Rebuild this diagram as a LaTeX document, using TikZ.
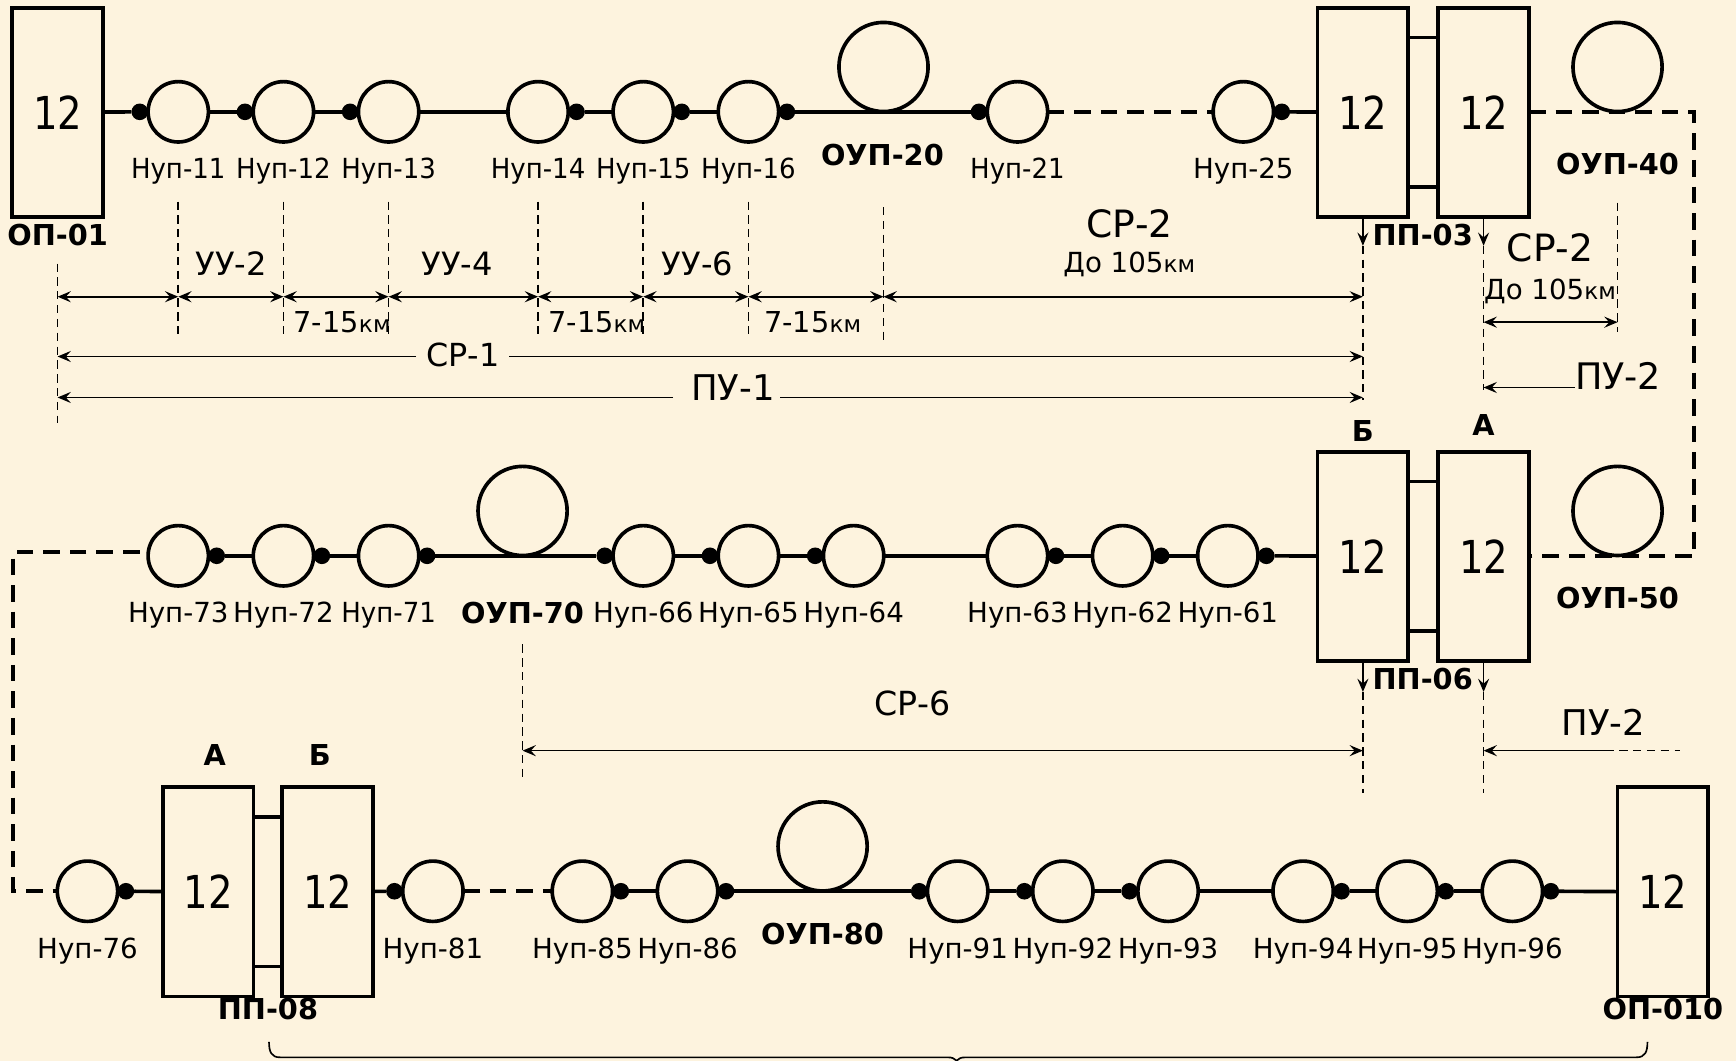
\documentclass[tikz,border=0pt]{standalone}
\usepackage{fontspec}
\usetikzlibrary{positioning, arrows.meta}
\setmainfont{DejaVu Sans}
\newfontfamily\narrowfont[FakeStretch=0.94]{DejaVu Sans}
\newfontfamily\boxfont[FakeStretch=0.85]{DejaVu Sans}
\definecolor{paper}{RGB}{253, 243, 222}

\begin{document}
\begin{tikzpicture}[x=1pt, y=-1pt, >={Stealth[length=12pt, width=10pt, inset=4.5pt]},
    station/.style={rectangle, draw, line width=3.4pt, minimum width=82pt, minimum height=189pt, inner sep=0pt, outer sep=0pt, font=\fontsize{41}{46}\selectfont\boxfont},
    nup/.style={circle, draw, line width=3.3pt, minimum size=54.5pt, inner sep=0pt, outer sep=0pt},
    oup/.style={circle, draw, line width=3.3pt, minimum size=80.5pt, inner sep=0pt, outer sep=0pt},
    joint/.style={circle, fill, minimum size=15pt, inner sep=0pt, outer sep=0pt},
    nuplabel/.style={font=\fontsize{25}{28}\selectfont, inner sep=0pt, text height=18pt, text depth=5pt},
    nuplabeln/.style={nuplabel, font=\fontsize{25}{28}\selectfont\narrowfont},
    namelabel/.style={font=\fontsize{26}{30}\selectfont\bfseries, inner sep=0pt},
    sizelabel/.style={font=\fontsize{#1}{#1}\selectfont, inner sep=0pt},
    fibre/.style={line width=3.3pt},
    fibredash/.style={line width=3.5pt, dash pattern=on 15pt off 9pt},
    guide/.style={line width=1.5pt, dash pattern=on 7.5pt off 5pt},
    dimline/.style={line width=1.5pt}]

    % Background
    \node[rectangle, fill=paper, minimum width=1568pt, minimum height=958pt, inner sep=0pt, outer sep=0pt] (sheet) at (784,479) {};
    \useasboundingbox (sheet.north west) rectangle (sheet.south east);

    % First line
    \node[station] (op01) at (52,101.5) {12};
    \node[nup] (n11) at (161,101) {};
    \node[nup] (n12) at (256,101) {};
    \node[nup] (n13) at (351,101) {};
    \node[nup] (n14) at (486,101) {};
    \node[nup] (n15) at (581,101) {};
    \node[nup] (n16) at (676,101) {};
    \node[nup] (n21) at (919,101) {};
    \node[nup] (n25) at (1123,101) {};
    \node[oup] (o20) at (798,60.5) {};
    \node[oup] (o40) at (1461,60.5) {};
    \node[station] (pp03b) at (1231,101.5) {12};
    \node[station] (pp03a) at (1340,101.5) {12};

    \node[joint, left=0pt of n11] (d11) {};
    \node[joint, left=0pt of n12] (d12) {};
    \node[joint, left=0pt of n13] (d13) {};
    \node[joint, right=0pt of n14] (d14) {};
    \node[joint, right=0pt of n15] (d15) {};
    \node[joint, right=0pt of n16] (d16) {};
    \node[joint, left=0pt of n21] (d21) {};
    \node[joint, right=0pt of n25] (d25) {};

    \node[nuplabeln, below=15pt of n11] (l11) {Нуп-11};
    \node[nuplabeln, below=15pt of n12] (l12) {Нуп-12};
    \node[nuplabeln, below=15pt of n13] (l13) {Нуп-13};
    \node[nuplabeln, below=15pt of n14] (l14) {Нуп-14};
    \node[nuplabeln, below=15pt of n15] (l15) {Нуп-15};
    \node[nuplabeln, below=15pt of n16] (l16) {Нуп-16};
    \node[nuplabeln, below=15pt of n21] (l21) {Нуп-21};
    \node[nuplabel, below=15pt of n25] (l25) {Нуп-25};
    \node[namelabel] (lo20) at (797,140) {ОУП-20};
    \node[namelabel] (lo40) at (1461,148) {ОУП-40};
    \node[namelabel] (lop01) at (52,212) {ОП-01};
    \node[namelabel] (lpp03) at (1285,212) {ПП-03};

    \draw[fibre] (op01) -- (d11);
    \draw[fibre] (n11) -- (d12);
    \draw[fibre] (n12) -- (d13);
    \draw[fibre] (n13) -- (n14);
    \draw[fibre] (d14) -- (n15);
    \draw[fibre] (d15) -- (n16);
    \draw[fibre] (d16) -- (d21);
    \draw[fibredash] (n21) -- (n25);
    \draw[fibre] (d25) -- (pp03b);
    \draw[fibre] ([yshift=-27pt]pp03b.north east) -- ([yshift=-27pt]pp03a.north west);
    \draw[fibre] ([yshift=27pt]pp03b.south east) -- ([yshift=27pt]pp03a.south west);

    % Dimensions of the first line
    \coordinate (g0t) at (52,238);
    \coordinate (g0b) at (52,382);
    \coordinate (g1t) at (161,182);
    \coordinate (g1b) at (161,305);
    \coordinate (g2t) at (256,182);
    \coordinate (g2b) at (256,305);
    \coordinate (g3t) at (351,182);
    \coordinate (g3b) at (351,305);
    \coordinate (g4t) at (486,182);
    \coordinate (g4b) at (486,305);
    \coordinate (g5t) at (581,182);
    \coordinate (g5b) at (581,305);
    \coordinate (g6t) at (676,182);
    \coordinate (g6b) at (676,305);
    \coordinate (g7t) at (798,187);
    \coordinate (g7b) at (798,308);
    \coordinate (g8t) at (1231,222);
    \coordinate (g8b) at (1231,361);
    \coordinate (g9t) at (1340,222);
    \coordinate (g9b) at (1340,352);
    \coordinate (gat) at (1461,183);
    \coordinate (gab) at (1461,300);
    \coordinate (pu1l) at (608,359);

    \draw[guide] (g0t) -- (g0b);
    \draw[guide] (g1t) -- (g1b);
    \draw[guide] (g2t) -- (g2b);
    \draw[guide] (g3t) -- (g3b);
    \draw[guide] (g4t) -- (g4b);
    \draw[guide] (g5t) -- (g5b);
    \draw[guide] (g6t) -- (g6b);
    \draw[guide] (g7t) -- (g7b);
    \draw[guide] (g8t) -- (g8b);
    \draw[guide] (g9t) -- (g9b);
    \draw[guide] (gat) -- (gab);
    \draw[dimline, ->] (pp03b) -- (g8t);
    \draw[dimline, ->] (pp03a) -- (g9t);

    \draw[dimline, <->] (g0t |- 0,268) -- (g1t |- 0,268);
    \draw[dimline, <->] (g1t |- 0,268) -- (g2t |- 0,268);
    \draw[dimline, <->] (g2t |- 0,268) -- (g3t |- 0,268);
    \draw[dimline, <->] (g3t |- 0,268) -- (g4t |- 0,268);
    \draw[dimline, <->] (g4t |- 0,268) -- (g5t |- 0,268);
    \draw[dimline, <->] (g5t |- 0,268) -- (g6t |- 0,268);
    \draw[dimline, <->] (g6t |- 0,268) -- (g7t |- 0,268);
    \draw[dimline, <->] (g7t |- 0,268) -- (g8t |- 0,268);
    \draw[dimline, <->] (g9t |- 0,291) -- (gat |- 0,291);

    \node[sizelabel=29] (uu2) at (209,238) {УУ-2};
    \node[sizelabel=29] (uu4) at (413,238) {УУ-4};
    \node[sizelabel=29] (uu6) at (630,238) {УУ-6};
    \node[sizelabel=26] (km1) at (309,291) {7-15{\fontsize{21}{21}\selectfont км}};
    \node[sizelabel=26] (km2) at (539,291) {7-15{\fontsize{21}{21}\selectfont км}};
    \node[sizelabel=26] (km3) at (734,291) {7-15{\fontsize{21}{21}\selectfont км}};
    \node[sizelabel=34] (sr2) at (1020,202) {СР-2};
    \node[sizelabel=25] (km105) at (1020,239) {До 105{\fontsize{21}{21}\selectfont км}};
    \node[sizelabel=34] (sr2a) at (1400,224) {СР-2};
    \node[sizelabel=25] (km105a) at (1400,263) {До 105{\fontsize{21}{21}\selectfont км}};

    \node[sizelabel=28.7, inner xsep=9pt] (sr1) at (418,321) {СР-1};
    \node[sizelabel=32, inner xsep=5pt] (pu1) at (662,350) {ПУ-1};
    \node[sizelabel=33, inner xsep=0pt] (pu2) at (1461.5,340) {ПУ-2};

    \draw[dimline, ->] (sr1.west |- 0,322) -- (g0t |- 0,322);
    \draw[dimline, ->] (sr1.east |- 0,322) -- (g8t |- 0,322);
    \draw[dimline, ->] (pu1l) -- (g0t |- 0,359);
    \draw[dimline, ->] (pu1.east |- 0,359) -- (g8t |- 0,359);
    \draw[dimline, ->] (pu2.west |- 0,350) -- (g9t |- 0,350);

    % Second line
    \node[nup] (n73) at (161,502) {};
    \node[nup] (n72) at (256,502) {};
    \node[nup] (n71) at (351,502) {};
    \node[nup] (n66) at (581,502) {};
    \node[nup] (n65) at (676,502) {};
    \node[nup] (n64) at (771,502) {};
    \node[nup] (n63) at (919,502) {};
    \node[nup] (n62) at (1014,502) {};
    \node[nup] (n61) at (1109,502) {};
    \node[oup] (o70) at (472,461.5) {};
    \node[oup] (o50) at (1461,461.5) {};
    \node[station] (pp06b) at (1231,502.5) {12};
    \node[station] (pp06a) at (1340,502.5) {12};

    \node[joint, right=0pt of n73] (d73) {};
    \node[joint, right=0pt of n72] (d72) {};
    \node[joint, right=0pt of n71] (d71) {};
    \node[joint, left=0pt of n66] (d66) {};
    \node[joint, left=0pt of n65] (d65) {};
    \node[joint, left=0pt of n64] (d64) {};
    \node[joint, right=0pt of n63] (d63) {};
    \node[joint, right=0pt of n62] (d62) {};
    \node[joint, right=0pt of n61] (d61) {};

    \node[nuplabel, below=15pt of n73] (l73) {Нуп-73};
    \node[nuplabel, below=15pt of n72] (l72) {Нуп-72};
    \node[nuplabeln, below=15pt of n71] (l71) {Нуп-71};
    \node[nuplabel, below=15pt of n66] (l66) {Нуп-66};
    \node[nuplabel, below=15pt of n65] (l65) {Нуп-65};
    \node[nuplabel, below=15pt of n64] (l64) {Нуп-64};
    \node[nuplabel, below=15pt of n63] (l63) {Нуп-63};
    \node[nuplabel, below=15pt of n62] (l62) {Нуп-62};
    \node[nuplabel, below=15pt of n61] (l61) {Нуп-61};
    \node[namelabel] (lo70) at (472,554) {ОУП-70};
    \node[namelabel] (lo50) at (1461,540) {ОУП-50};
    \node[namelabel] (lpp06) at (1285,613) {ПП-06};
    \node[namelabel] (lb06) at (1231,389) {Б};
    \node[namelabel] (la06) at (1340,384) {А};

    \coordinate (turnr) at (1530,300);
    \draw[fibredash] (pp03a) -| (turnr) |- (pp06a);

    \draw[fibre] (d73) -- (n72);
    \draw[fibre] (d72) -- (n71);
    \draw[fibre] (d71) -- (d66);
    \draw[fibre] (n66) -- (d65);
    \draw[fibre] (n65) -- (d64);
    \draw[fibre] (n64) -- (n63);
    \draw[fibre] (d63) -- (n62);
    \draw[fibre] (d62) -- (n61);
    \draw[fibre] (d61) -- (pp06b);
    \draw[fibre] ([yshift=-27pt]pp06b.north east) -- ([yshift=-27pt]pp06a.north west);
    \draw[fibre] ([yshift=27pt]pp06b.south east) -- ([yshift=27pt]pp06a.south west);

    % Dimensions of the second line
    \coordinate (h0t) at (472,582);
    \coordinate (h0b) at (472,703);
    \coordinate (h1t) at (1231,625);
    \coordinate (h1b) at (1231,716);
    \coordinate (h2t) at (1340,625);
    \coordinate (h2b) at (1340,716);
    \coordinate (h3) at (1450,678);
    \coordinate (h4) at (1517,678);

    \draw[guide] (h0t) -- (h0b);
    \draw[guide] (h1t) -- (h1b);
    \draw[guide] (h2t) -- (h2b);
    \draw[dimline, ->] (pp06b) -- (h1t);
    \draw[dimline, ->] (pp06a) -- (h2t);
    \draw[dimline, <->] (h0t |- 0,678) -- (h1t |- 0,678);
    \draw[dimline, ->] (h3) -- (h2t |- 0,678);
    \draw[guide] (h3) -- (h4);

    \node[sizelabel=30] (sr6) at (824,635) {СР-6};
    \node[sizelabel=32] (pu2a) at (1448,652) {ПУ-2};

    % Third line
    \node[nup] (n76) at (79,805) {};
    \node[nup] (n81) at (391,805) {};
    \node[nup] (n85) at (526,805) {};
    \node[nup] (n86) at (621,805) {};
    \node[nup] (n91) at (865,805) {};
    \node[nup] (n92) at (960,805) {};
    \node[nup] (n93) at (1055,805) {};
    \node[nup] (n94) at (1177,805) {};
    \node[nup] (n95) at (1271,805) {};
    \node[nup] (n96) at (1366,805) {};
    \node[oup] (o80) at (743,764.5) {};
    \node[station] (pp08a) at (188,805.5) {12};
    \node[station] (pp08b) at (296,805.5) {12};
    \node[station] (op010) at (1502,805.5) {12};

    \node[joint, right=0pt of n76] (d76) {};
    \node[joint, left=0pt of n81] (d81) {};
    \node[joint, right=0pt of n85] (d85) {};
    \node[joint, right=0pt of n86] (d86) {};
    \node[joint, left=0pt of n91] (d91) {};
    \node[joint, left=0pt of n92] (d92) {};
    \node[joint, left=0pt of n93] (d93) {};
    \node[joint, right=0pt of n94] (d94) {};
    \node[joint, right=0pt of n95] (d95) {};
    \node[joint, right=0pt of n96] (d96) {};

    \node[nuplabel, below=15pt of n76] (l76) {Нуп-76};
    \node[nuplabel, below=15pt of n81] (l81) {Нуп-81};
    \node[nuplabel, below=15pt of n85] (l85) {Нуп-85};
    \node[nuplabel, below=15pt of n86] (l86) {Нуп-86};
    \node[nuplabel, below=15pt of n91] (l91) {Нуп-91};
    \node[nuplabel, below=15pt of n92] (l92) {Нуп-92};
    \node[nuplabel, below=15pt of n93] (l93) {Нуп-93};
    \node[nuplabel, below=15pt of n94] (l94) {Нуп-94};
    \node[nuplabel, below=15pt of n95] (l95) {Нуп-95};
    \node[nuplabel, below=15pt of n96] (l96) {Нуп-96};
    \node[namelabel] (lo80) at (743,844) {ОУП-80};
    \node[namelabel] (lpp08) at (242,911) {ПП-08};
    \node[namelabel] (lop010) at (1502,911) {ОП-010};
    \node[namelabel] (la08) at (194,682) {А};
    \node[namelabel] (lb08) at (289,682) {Б};

    \coordinate (turnl) at (12,650);
    \coordinate (startl) at (126,498.5);
    \draw[fibredash] (startl) -| (turnl) |- (n76);

    \draw[fibre] (d76) -- (pp08a);
    \draw[fibre] ([yshift=-27pt]pp08a.north east) -- ([yshift=-27pt]pp08b.north west);
    \draw[fibre] ([yshift=27pt]pp08a.south east) -- ([yshift=27pt]pp08b.south west);
    \draw[fibre] (pp08b) -- (d81);
    \draw[fibredash] (n81) -- (n85);
    \draw[fibre] (d85) -- (n86);
    \draw[fibre] (d86) -- (d91);
    \draw[fibre] (n91) -- (d92);
    \draw[fibre] (n92) -- (d93);
    \draw[fibre] (n93) -- (n94);
    \draw[fibre] (d94) -- (n95);
    \draw[fibre] (d95) -- (n96);
    \draw[fibre] (d96) -- (op010);

    % Brace
    \coordinate (bl) at (243,941);
    \coordinate (br) at (1488,941);
    \coordinate (bm) at (864,958);
    \draw[dimline] (bl) .. controls (243,950) and (245,955) .. (253,955) -- (856,955) .. controls (860,955) and (862,956) .. (bm)
        .. controls (866,956) and (868,955) .. (872,955) -- (1478,955) .. controls (1486,955) and (1488,950) .. (br);
\end{tikzpicture}
\end{document}
